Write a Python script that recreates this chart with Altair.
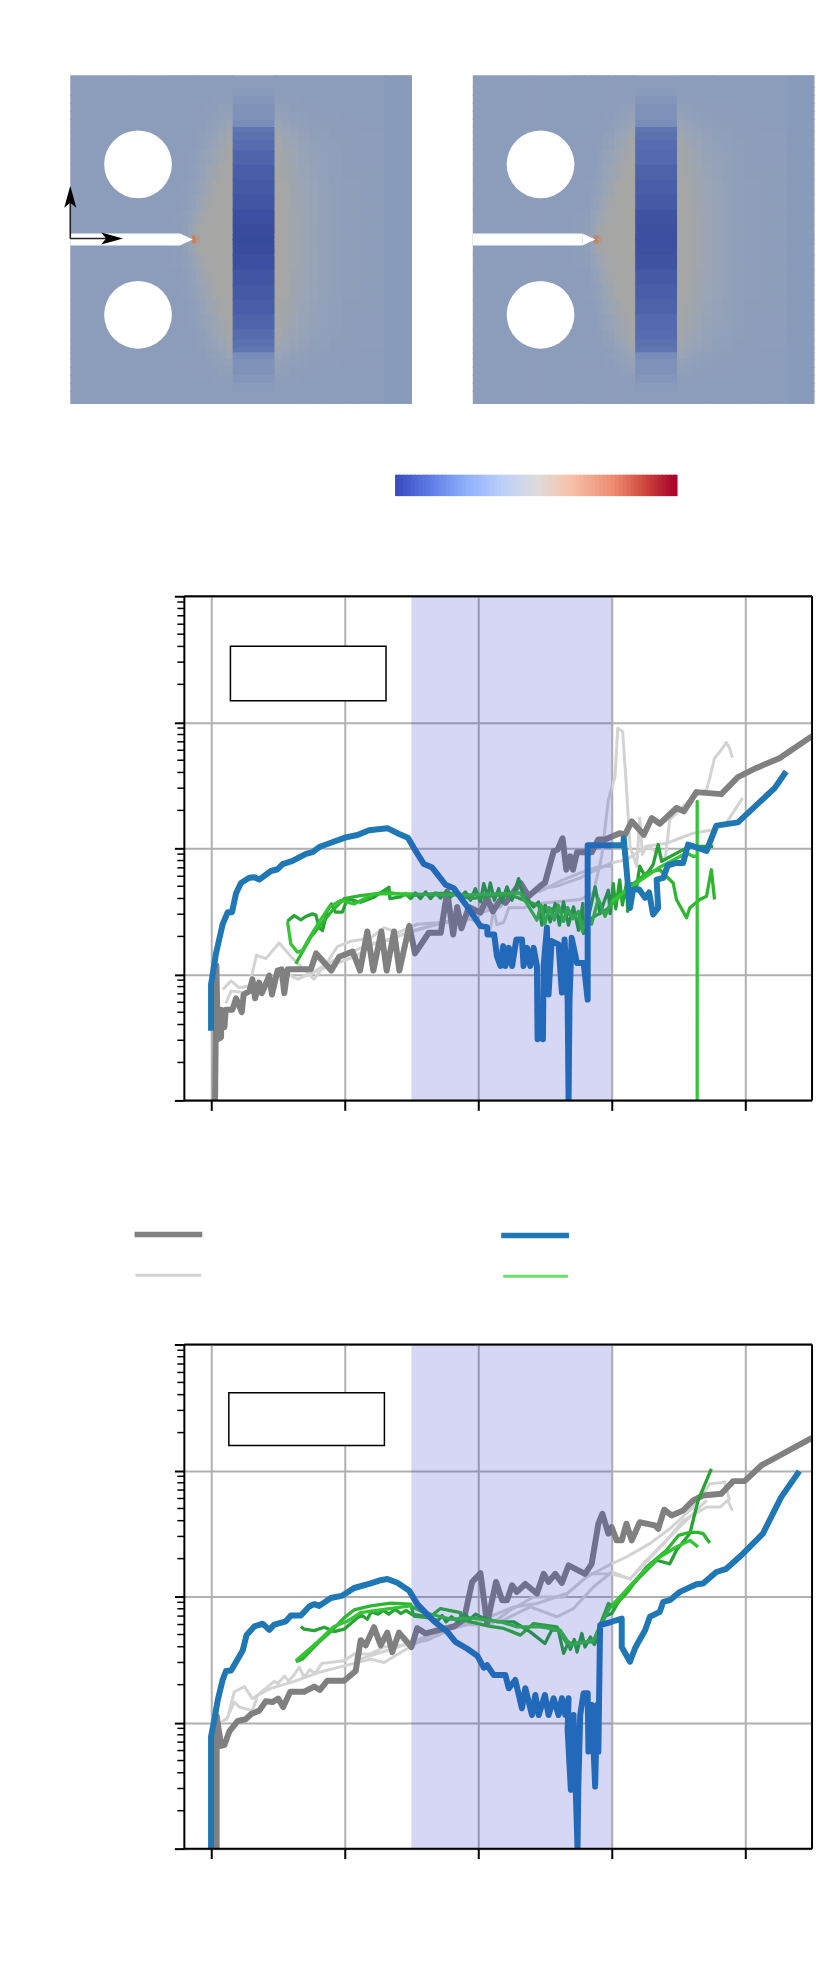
import altair as alt
import pandas as pd

# ---------- curves: (x, decades above 1e-9) ----------
p1_gray = [(0.03,0),(0.04,1.07),(0.05,.485),(0.075,.5),(0.075,.72),(.10,.58),(.11,.72),(.16,.72),(.187,.81),(.23,.70),(.244,.84),(.287,.867),(.31,.96),(.33,.81),(.36,.935),(.38,.85),(.436,.99),(.456,.84),(.498,1.03),(.528,1.04),(.548,.85),(.573,1.04),(.747,1.04),(.787,1.166),(.90,1.03),(.96,1.14),(1.06,1.18),(1.116,1.03),(1.17,1.34),(1.215,1.03),(1.275,1.34),(1.315,1.03),(1.37,1.34),(1.41,1.03),(1.484,1.384),(1.527,1.166),(1.63,1.33),(1.72,1.33),(1.768,1.657),(1.813,1.316),(1.843,1.534),(1.875,1.365),(1.93,1.534),(2.017,1.49),(2.067,1.607),(2.11,1.50),(2.167,1.594),(2.204,1.567),(2.316,1.726),(2.378,1.62),(2.478,1.712),(2.50,1.726),(2.565,1.976),(2.595,1.99),(2.632,2.08),(2.66,1.83),(2.69,1.937),(2.71,1.83),(2.74,1.968),(2.85,1.968),(2.90,2.07),(2.95,2.07),(3.06,2.12),(3.10,2.108),(3.15,2.214),(3.24,2.108),(3.30,2.24),(3.36,2.195),(3.485,2.32),(3.54,2.293),(3.634,2.446),(3.82,2.43),(3.945,2.565),(4.08,2.636),(4.256,2.715),(4.5,2.89)]
p1_blue = [(0,.553),(0,.92),(.037,1.166),(.087,1.398),(.125,1.493),(.157,1.493),(.187,1.643),(.224,1.725),(.286,1.766),(.324,1.77),(.361,1.752),(.448,1.82),(.498,1.834),(.536,1.875),(.61,1.90),(.71,1.956),(.76,1.97),(.81,2.01),(.897,2.044),(1.009,2.087),(1.096,2.106),(1.183,2.144),(1.32,2.16),(1.395,2.12),(1.474,2.084),(1.52,2.0),(1.594,1.875),(1.656,1.847),(1.756,1.711),(1.818,1.684),(1.93,1.52),(2.017,1.383),(2.067,1.375),(2.07,1.317),(2.12,1.317),(2.14,1.145),(2.167,1.066),(2.187,1.224),(2.204,1.066),(2.23,1.21),(2.254,1.066),(2.286,1.277),(2.328,1.277),(2.34,1.066),(2.366,1.21),(2.39,1.066),(2.415,1.21),(2.44,1.066),(2.445,.485),(2.465,.72),(2.485,.485),(2.49,1.066),(2.515,1.37),(2.527,.84),(2.55,1.264),(2.602,1.237),(2.627,.855),(2.647,1.277),(2.67,.80),(2.677,0),(2.684,.80),(2.70,1.29),(2.74,1.09),(2.79,1.09),(2.82,.80),(2.82,2.024),(3.087,2.024),(3.09,2.08),(3.137,1.527),(3.16,1.673),(3.206,1.673),(3.25,1.607),(3.28,1.65),(3.31,1.475),(3.348,1.527),(3.336,1.752),(3.386,1.765),(3.42,1.865),(3.485,1.884),(3.535,1.884),(3.572,2.03),(3.71,1.98),(3.784,2.18),(3.945,2.206),(4.22,2.478),(4.306,2.61)]
p1_light_a = [(.087,.88),(.15,.948),(.21,.894),(.287,.907),(.34,1.153),(.41,1.125),(.51,1.248),(.6,1.139),(.77,.962),(.87,1.098),(.946,1.22),(1.046,1.262),(1.196,1.289),(1.295,1.37),(1.395,1.33),(1.544,1.398),(1.694,1.41),(1.943,1.439),(2.09,1.357),(2.117,1.515),(2.14,1.396),(2.19,1.41),(2.23,1.528),(2.34,1.528),(2.49,1.567),(2.764,1.594),(2.863,1.646),(2.925,1.937),(2.975,2.385),(3.025,2.57),(3.045,2.953),(3.082,2.926),(3.11,2.49),(3.137,2.016),(3.187,1.857),(3.21,2.24),(3.23,1.95),(3.26,2.016),(3.31,1.99),(3.4,1.91),(3.435,2.227),(3.61,2.41),(3.71,2.465),(3.734,2.557),(3.77,2.715),(3.82,2.78),(3.858,2.84),(3.883,2.794),(3.903,2.72)]
p1_light_b = [(.11,.77),(.15,.867),(.274,.853),(.374,.907),(.448,.948),(.548,1.016),(.648,.962),(.797,1.03),(.897,1.07),(.996,1.11),(1.096,1.15),(1.22,1.248),(1.345,1.275),(1.494,1.343),(1.644,1.384),(1.818,1.425),(1.943,1.466),(2.167,1.534),(2.216,1.607),(2.34,1.62),(2.44,1.673),(2.59,1.70),(2.764,1.765),(2.888,1.83),(3,1.884),(3.11,1.91),(3.26,2.016),(3.41,2.04),(3.51,2.08),(3.61,2.12),(3.76,2.148),(3.858,2.2),(3.98,2.4)]
p1_light_c = [(.72,.99),(.9,1.1),(1.1,1.2),(1.3,1.27),(1.6,1.37),(1.9,1.46),(2.266,1.62),(2.465,1.66),(2.614,1.739),(2.764,1.805),(2.913,1.858),(3,1.858)]
p1_green_a = [(.572,1.422),(.622,1.467),(.672,1.432),(.709,1.459),(.759,1.48),(.785,1.47),(.809,1.374),(.834,1.348),(.871,1.506),(.901,1.559),(.933,1.493),(.983,1.493),(1.02,1.6),(1.12,1.572),(1.22,1.612),(1.332,1.691),(1.339,1.6),(1.419,1.614),(1.456,1.641),(1.494,1.601),(1.531,1.646),(1.568,1.601),(1.606,1.654),(1.643,1.601),(1.68,1.646),(1.718,1.606),(1.755,1.654),(1.793,1.614),(1.83,1.646),(1.867,1.614),(1.905,1.654),(1.942,1.588),(1.979,1.68),(2.017,1.575),(2.042,1.72),(2.071,1.614),(2.091,1.725),(2.121,1.588),(2.154,1.68),(2.178,1.575),(2.216,1.694),(2.253,1.588),(2.303,1.76),(2.34,1.614),(2.378,1.588),(2.415,1.535),(2.452,1.575),(2.477,1.39),(2.502,1.548),(2.54,1.416),(2.577,1.562),(2.609,1.39),(2.639,1.575),(2.676,1.39),(2.714,1.535),(2.751,1.35),(2.784,1.562),(2.789,1.324),(2.826,1.456),(2.876,1.694),(2.913,1.482),(2.938,1.562),(2.975,1.667),(2.988,1.482),(3.012,1.72),(3.03,1.52),(3.06,1.75),(3.08,1.55),(3.11,1.72),(3.12,1.5),(3.15,1.72),(3.187,1.70),(3.21,1.858),(3.25,1.778),(3.31,1.87),(3.348,2.03),(3.373,1.897),(3.535,1.99),(3.61,2.016),(3.76,2.016)]
p1_green_b = [(.634,1.084),(.746,1.295),(.908,1.506),(.996,1.6),(1.12,1.625),(1.32,1.65),(1.494,1.625),(1.694,1.643),(1.818,1.643),(1.943,1.6),(2.167,1.63),(2.266,1.62),(2.465,1.54),(2.664,1.488),(2.79,1.41),(2.963,1.515),(3.11,1.673),(3.26,1.805),(3.36,1.83),(3.46,1.725),(3.485,1.594),(3.56,1.449),(3.585,1.528),(3.66,1.594),(3.71,1.62),(3.746,1.83),(3.77,1.594)]
p1_green_c = [(.572,1.422),(.597,1.242),(.647,1.176),(.684,1.19),(.746,1.308),(.809,1.414),(.883,1.533),(.971,1.586),(1.07,1.559),(1.22,1.638),(1.494,1.638),(1.694,1.63),(1.943,1.63),(2.316,1.646),(2.44,1.43),(2.47,1.55),(2.5,1.4),(2.53,1.53),(2.57,1.43),(2.6,1.55),(2.64,1.42),(2.67,1.53),(2.71,1.44),(2.75,1.5),(2.78,1.34),(2.82,1.46),(2.85,1.4),(2.9,1.6),(2.95,1.46),(3.0,1.58),(3.187,1.725),(3.36,1.85),(3.56,1.963),(3.61,1.937),(3.64,1.937),(3.64,2.372),(3.64,0)]

p2_gray = [(.042,0),(.042,1.055),(.075,.815),(.1,.823),(.137,.93),(.2,1.014),(.26,1.027),(.3,1.068),(.361,1.095),(.41,1.169),(.46,1.163),(.503,1.19),(.54,1.123),(.593,1.245),(.697,1.245),(.772,1.286),(.815,1.259),(.87,1.332),(.996,1.332),(1.083,1.409),(1.12,1.654),(1.158,1.613),(1.22,1.757),(1.27,1.613),(1.32,1.714),(1.357,1.559),(1.407,1.714),(1.5,1.6),(1.544,1.749),(1.606,1.708),(1.818,1.763),(1.893,1.817),(1.955,2.117),(2.017,2.185),(2.067,1.786),(2.134,2.116),(2.18,1.97),(2.216,1.97),(2.254,2.09),(2.29,2.037),(2.353,2.10),(2.44,2.024),(2.49,2.18),(2.527,2.116),(2.577,2.18),(2.627,2.108),(2.677,2.248),(2.8,2.18),(2.85,2.26),(2.9,2.578),(2.93,2.657),(2.975,2.5),(3,2.55),(3.037,2.446),(3.075,2.446),(3.11,2.578),(3.15,2.446),(3.21,2.59),(3.323,2.565),(3.348,2.538),(3.393,2.689),(3.448,2.644),(3.535,2.683),(3.61,2.763),(3.684,2.802),(3.82,2.815),(3.91,2.916),(3.995,2.916),(4.12,3.04),(4.5,3.26)]
p2_blue = [(0,0),(0,.89),(.025,1.027),(.05,1.177),(.087,1.34),(.112,1.409),(.15,1.414),(.237,1.572),(.266,1.695),(.324,1.763),(.386,1.785),(.436,1.736),(.473,1.777),(.56,1.804),(.598,1.85),(.672,1.85),(.735,1.921),(.772,1.94),(.81,1.926),(.897,1.989),(.984,2.008),(1.071,2.068),(1.196,2.104),(1.27,2.13),(1.32,2.139),(1.395,2.109),(1.482,2.049),(1.544,1.94),(1.669,1.804),(1.768,1.722),(1.83,1.64),(1.918,1.586),(1.993,1.531),(2.042,1.436),(2.067,1.456),(2.117,1.377),(2.204,1.377),(2.229,1.272),(2.278,1.338),(2.328,1.113),(2.353,1.272),(2.403,1.06),(2.428,1.219),(2.453,1.06),(2.5,1.219),(2.527,1.06),(2.565,1.193),(2.602,1.06),(2.627,1.193),(2.652,1.06),(2.677,1.193),(2.67,.942),(2.694,.467),(2.714,1.06),(2.744,0),(2.75,.493),(2.764,1.06),(2.789,1.232),(2.82,1.232),(2.826,.77),(2.85,1.14),(2.876,.493),(2.89,1.14),(2.9,.77),(2.913,1.773),(3,1.8),(3.075,1.826),(3.075,1.6),(3.137,1.483),(3.174,1.588),(3.2,1.64),(3.25,1.733),(3.286,1.84),(3.36,1.879),(3.386,1.958),(3.435,1.971),(3.51,2.037),(3.634,2.098),(3.684,2.103),(3.784,2.195),(3.858,2.22),(3.983,2.34),(4.132,2.5),(4.269,2.789),(4.405,2.995)]
p2_light_a = [(.075,1.0),(.125,1.04),(.174,1.245),(.25,1.286),(.31,1.19),(.349,1.218),(.473,1.327),(.5,1.31),(.55,1.37),(.58,1.33),(.623,1.38),(.66,1.44),(.697,1.36),(.74,1.42),(.78,1.39),(.83,1.47),(.996,1.49),(1.071,1.545),(1.196,1.545),(1.295,1.6),(1.445,1.613),(1.62,1.654),(1.818,1.749),(1.993,1.804),(2.067,1.813),(2.19,1.813),(2.39,1.918),(2.59,1.84),(2.714,1.905),(2.863,2.076),(3,2.195),(3.137,2.14),(3.26,2.288),(3.41,2.446),(3.535,2.604),(3.71,2.71),(3.81,2.71),(3.87,2.763),(3.903,2.683)]
p2_light_b = [(.11,1.014),(.174,1.163),(.212,1.123),(.31,1.095),(.349,1.218),(.448,1.272),(.623,1.327),(.797,1.395),(.996,1.45),(1.196,1.504),(1.295,1.477),(1.445,1.572),(1.644,1.695),(1.893,1.777),(2.09,1.777),(2.24,1.892),(2.415,1.997),(2.64,1.997),(2.813,2.156),(3,2.26),(3.11,2.314),(3.286,2.42),(3.435,2.538),(3.61,2.71),(3.734,2.894),(3.846,2.908),(3.883,2.763)]
p2_light_c = [(1.1,1.5),(1.4,1.6),(1.7,1.72),(2.0,1.8),(2.266,1.918),(2.44,1.945),(2.664,2.024),(2.838,2.18),(3,2.18),(3.137,2.14),(3.3,2.32),(3.46,2.5),(3.61,2.657),(3.71,2.763)]
p2_green_a = [(.672,1.763),(.697,1.741),(.772,1.73),(.847,1.757),(.92,1.722),(.996,1.741),(1.096,1.831),(1.13,1.85),(1.17,1.82),(1.2,1.88),(1.25,1.86),(1.29,1.89),(1.33,1.86),(1.38,1.9),(1.42,1.865),(1.46,1.89),(1.5,1.86),(1.594,1.845),(1.7,1.81),(1.73,1.85),(1.76,1.8),(1.8,1.84),(1.85,1.8),(1.9,1.86),(1.94,1.82),(1.98,1.86),(2.017,1.84),(2.14,1.8),(2.266,1.8),(2.39,1.72),(2.5,1.628),(2.55,1.733),(2.6,1.733),(2.64,1.549),(2.677,1.64),(2.69,1.58),(2.72,1.66),(2.74,1.56),(2.776,1.707),(2.8,1.6),(2.84,1.68),(2.87,1.62),(2.888,1.654),(2.94,1.84),(3,1.865),(3.087,2.024),(3.187,2.13),(3.336,2.288),(3.435,2.26),(3.485,2.367),(3.585,2.5),(3.647,2.763),(3.746,3.013)]
p2_green_b = [(.635,1.482),(.685,1.504),(.797,1.627),(.897,1.722),(.996,1.831),(1.071,1.894),(1.196,1.926),(1.345,1.948),(1.494,1.94),(1.519,1.845),(1.631,1.831),(1.718,1.905),(1.868,1.872),(1.868,1.817),(2.09,1.763),(2.192,1.747),(2.316,1.694),(2.415,1.786),(2.59,1.76),(2.664,1.628),(2.863,1.641),(2.975,1.945),(3.012,1.918),(3.11,2.024),(3.26,2.235),(3.41,2.367),(3.5,2.485),(3.585,2.51),(3.647,2.51),(3.684,2.5),(3.734,2.425)]
p2_green_c = [(.635,1.49),(.797,1.64),(.92,1.763),(1.02,1.804),(1.12,1.872),(1.295,1.899),(1.494,1.926),(1.594,1.872),(1.8,1.82),(1.95,1.83),(2.167,1.8),(2.291,1.76),(2.465,1.76),(2.614,1.733),(2.69,1.615),(2.863,1.654),(2.988,1.918),(3.062,1.997),(3.21,2.169),(3.36,2.314),(3.485,2.393),(3.585,2.446),(3.647,2.393)]

# ---------- field picture (upper half; mirrored below the crack) ----------
field_cols = [0,60,100,112,118,122,126,130,136,142,148,156,163,205,212,220,230,240,250,260,272,290,315,343]
field_rows = [0,4,15,30,45,60,75,90,100,108,113,120,128,136,144,152,165]
field_vals = [
 [.5,.5,.52,.58,.68,.95,.88,.83,.83,.84,.84,.85,.01,.85,.82,.78,.72,.66,.61,.57,.54,.52,.48],
 [.5,.5,.52,.57,.65,.74,.8,.83,.83,.84,.84,.85,.02,.85,.82,.78,.72,.66,.61,.57,.54,.52,.48],
 [.5,.5,.51,.54,.6,.66,.73,.79,.82,.84,.84,.85,.04,.85,.82,.78,.72,.66,.61,.57,.54,.52,.48],
 [.5,.5,.5,.52,.56,.61,.67,.74,.8,.83,.84,.85,.08,.85,.82,.77,.71,.65,.61,.57,.54,.52,.48],
 [.5,.5,.5,.51,.54,.57,.62,.69,.76,.81,.84,.85,.11,.85,.81,.76,.7,.64,.6,.56,.54,.52,.48],
 [.5,.5,.5,.5,.52,.54,.58,.64,.71,.77,.82,.85,.14,.84,.8,.74,.68,.63,.59,.56,.53,.52,.48],
 [.5,.5,.5,.5,.51,.52,.55,.6,.66,.72,.78,.84,.18,.83,.78,.72,.66,.61,.58,.55,.53,.51,.48],
 [.5,.5,.5,.5,.5,.51,.53,.57,.62,.68,.74,.82,.22,.81,.75,.69,.63,.59,.56,.54,.52,.51,.48],
 [.5,.5,.5,.5,.5,.5,.52,.55,.59,.64,.7,.79,.24,.78,.72,.66,.61,.57,.55,.53,.52,.51,.48],
 [.5,.5,.5,.5,.5,.5,.51,.53,.57,.61,.66,.75,.26,.74,.68,.63,.58,.56,.54,.52,.51,.5,.48],
 [.5,.5,.5,.5,.5,.5,.5,.52,.55,.58,.62,.68,.36,.68,.63,.59,.56,.54,.53,.52,.51,.5,.48],
 [.5,.5,.5,.5,.5,.5,.5,.51,.53,.55,.59,.62,.39,.62,.59,.56,.54,.53,.52,.51,.5,.5,.48],
 [.5,.5,.5,.5,.5,.5,.5,.5,.51,.53,.55,.57,.40,.57,.55,.53,.52,.51,.5,.5,.5,.5,.48],
 [.5,.5,.5,.5,.5,.5,.5,.5,.5,.51,.52,.53,.44,.53,.52,.51,.5,.5,.5,.5,.5,.5,.48],
 [.5,.5,.5,.5,.5,.5,.5,.5,.5,.5,.5,.5,.48,.5,.5,.5,.5,.5,.5,.5,.5,.5,.48],
 [.5,.5,.5,.5,.5,.5,.5,.5,.5,.5,.5,.5,.5,.5,.5,.5,.5,.5,.5,.5,.5,.5,.48],
]
field_stops = [0, .2, .35, .5, .7, .85, 1]
field_colors = ["#37489b", "#5068ad", "#788cb9", "#8c9dbb", "#9aa5b6", "#a7a6a3", "#d7703f"]
BAND_COL = 12
cbar_stops = [0, .12, .25, .38, .5, .62, .78, .9, 1]
cbar_colors = ["#3b4cc0", "#5f7de6", "#8fb0fb", "#bdd0fa", "#dcdcdc", "#f6c3aa", "#ee8a6e", "#c9403a", "#a8002a"]

major_ticks = [1e-9, 1e-8, 1e-7, 1e-6, 1e-5]
minor_mult = [2, 3, 4, 5, 6, 7, 8, 9]
x_ticks = [0, 1, 2, 3, 4]
shade_band = (1.5, 3.0)

LIGHT, GRAY, BLUE = "#d3d3d3", "#808080", "#1f77b4"
GREENS = ["#27a336", "#2fb52f", "#35c435"]

PW, PH = 630, 506
X_SCALE = alt.Scale(domain=[-0.2, 4.5], nice=False, zero=False)
Y_SCALE = alt.Scale(type="log", domain=[1e-9, 1e-5], nice=False)


def line_df(points):
    return pd.DataFrame({"x": [p[0] for p in points],
                         "y": [10 ** (p[1] - 9) for p in points],
                         "i": range(len(points))})


def curve(points, color, width):
    return alt.Chart(line_df(points)).mark_line(
        color=color, strokeWidth=width, strokeJoin="round", strokeCap="butt", clip=True
    ).encode(
        x=alt.X("x:Q", scale=X_SCALE),
        y=alt.Y("y:Q", scale=Y_SCALE),
        order=alt.Order("i:Q"),
    )


def plot_panel(lights, greens, gray, blue, box):
    axis_x = alt.Axis(values=x_ticks, labels=False, title=None, tickSize=10, tickWidth=2,
                      tickColor="black", grid=True, gridColor="#b0b0b0", gridWidth=2, domain=False)
    axis_y = alt.Axis(values=major_ticks, labels=False, title=None, tickSize=10, tickWidth=2,
                      tickColor="black", grid=True, gridColor="#b0b0b0", gridWidth=2, domain=False)
    base = alt.Chart(pd.DataFrame({"x": [0.0], "y": [1e-7]})).mark_point(opacity=0).encode(
        x=alt.X("x:Q", scale=X_SCALE, axis=axis_x),
        y=alt.Y("y:Q", scale=Y_SCALE, axis=axis_y))
    minors = pd.DataFrame({"v": [m * t for t in major_ticks[:-1] for m in minor_mult]})
    minor_rules = alt.Chart(minors).mark_rule(color="black", strokeWidth=1.5).encode(
        y=alt.Y("v:Q", scale=Y_SCALE), x=alt.value(-7), x2=alt.value(0))
    box_rect = alt.Chart(pd.DataFrame({"x": [box[0]], "x2": [box[1]], "y": [10 ** (box[2] - 9)], "y2": [10 ** (box[3] - 9)]})).mark_rect(
        fill="white", stroke="black", strokeWidth=1.5).encode(
        x=alt.X("x:Q", scale=X_SCALE), x2="x2:Q", y=alt.Y("y:Q", scale=Y_SCALE), y2="y2:Q")
    shade = alt.Chart(pd.DataFrame({"x": [shade_band[0]], "x2": [shade_band[1]]})).mark_rect(
        color="#3333cc", opacity=0.2).encode(
        x=alt.X("x:Q", scale=X_SCALE), x2="x2:Q", y=alt.value(0), y2=alt.value(PH))
    frame = [
        alt.Chart(pd.DataFrame({"a": [0]})).mark_rule(color="black", strokeWidth=2).encode(
            x=alt.value(a), x2=alt.value(b), y=alt.value(c), y2=alt.value(d))
        for a, b, c, d in [(0, PW, 0, 0), (0, PW, PH, PH), (0, 0, 0, PH), (PW, PW, 0, PH)]
    ]
    layers = [base, minor_rules]
    layers += [curve(p, LIGHT, 3) for p in lights]
    layers += [curve(gray, GRAY, 6)]
    layers += [curve(p, c, 3.3) for p, c in zip(greens, GREENS)]
    layers += [curve(blue, BLUE, 6), box_rect, shade] + frame
    return alt.layer(*layers).properties(width=PW, height=PH)


# ---------- top row: two plates and colour bar ----------
TW, TH = 814, 583.5
PLATE_X = [59.5, 463.5]
MID_Y = 229
tx = alt.Scale(domain=[0, TW], nice=False, zero=False)
ty = alt.Scale(domain=[TH, 0], nice=False, zero=False)

cells = []
for plate, x0 in enumerate(PLATE_X):
    for r, row in enumerate(field_vals):
        for c, v in enumerate(row):
            if c == BAND_COL and plate == 1 and v < .2:
                v = v + 0.03
            for sign in (-1, 1):
                cells.append({"x": x0 + field_cols[c], "x2": x0 + field_cols[c + 1] + (1 if c < len(row) - 1 else 0),
                              "y": MID_Y + sign * field_rows[r] - sign * (1 if r == 0 else 0),
                              "y2": MID_Y + sign * (field_rows[r + 1] + (1 if r < len(field_vals) - 1 else 0)), "v": v})
field = alt.Chart(pd.DataFrame(cells)).mark_rect(strokeWidth=0).encode(
    x=alt.X("x:Q", scale=tx, axis=None), x2="x2:Q",
    y=alt.Y("y:Q", scale=ty, axis=None), y2="y2:Q",
    order=alt.Order("x:Q"),
    color=alt.Color("v:Q", legend=None, scale=alt.Scale(domain=field_stops, range=field_colors, interpolate="rgb")))

holes = pd.DataFrame([{"x": x0 + 68, "y": MID_Y + s * 75.5} for x0 in PLATE_X for s in (-1, 1)])
hole_marks = alt.Chart(holes).mark_point(filled=True, shape="circle", color="white", opacity=1, size=4624, strokeWidth=0).encode(
    x=alt.X("x:Q", scale=tx), y=alt.Y("y:Q", scale=ty))
slots = pd.DataFrame([{"x": x0, "x2": x0 + 110, "y": MID_Y - 6, "y2": MID_Y + 6} for x0 in PLATE_X])
slot_marks = alt.Chart(slots).mark_rect(color="white").encode(
    x=alt.X("x:Q", scale=tx), x2="x2:Q", y=alt.Y("y:Q", scale=ty), y2="y2:Q")
tips = pd.DataFrame([r for k, x0 in enumerate(PLATE_X) for r in (
    {"k": k, "x": x0 + 110, "y": MID_Y - 6, "y2": MID_Y + 6},
    {"k": k, "x": x0 + 123, "y": MID_Y, "y2": MID_Y})])
tip_marks = alt.Chart(tips).mark_area(color="white", opacity=1).encode(
    x=alt.X("x:Q", scale=tx), y=alt.Y("y:Q", scale=ty), y2="y2:Q", detail="k:N")
AX = PLATE_X[0]
arrow_x = alt.Chart(pd.DataFrame({"x": [AX], "x2": [AX + 46], "y": [MID_Y - 1]})).mark_rule(color="#222222", strokeWidth=1.6).encode(
    x=alt.X("x:Q", scale=tx), x2="x2:Q", y=alt.Y("y:Q", scale=ty))
arrow_y = alt.Chart(pd.DataFrame({"x": [AX], "y": [MID_Y - 1], "y2": [MID_Y - 42]})).mark_rule(color="#222222", strokeWidth=1.6).encode(
    x=alt.X("x:Q", scale=tx), y=alt.Y("y:Q", scale=ty), y2="y2:Q")
head_x = alt.Chart(pd.DataFrame({"x": [AX + 42], "y": [MID_Y - 1]})).mark_point(
    filled=True, color="black", opacity=1, size=484, strokeWidth=0, shape="M1,0L-1,.55L-.55,0L-1,-.55Z").encode(
    x=alt.X("x:Q", scale=tx), y=alt.Y("y:Q", scale=ty))
head_y = alt.Chart(pd.DataFrame({"x": [AX], "y": [MID_Y - 43]})).mark_point(
    filled=True, color="black", opacity=1, size=484, strokeWidth=0, shape="M0,-1L.55,1L0,.55L-.55,1Z").encode(
    x=alt.X("x:Q", scale=tx), y=alt.Y("y:Q", scale=ty))

cbar_n = 72
cbar = pd.DataFrame([{"x": 385.5 + 283.5 * k / cbar_n, "x2": 385.5 + 283.5 * (k + 1) / cbar_n + (1 if k < cbar_n - 1 else 0), "y": 465, "y2": 486.5, "w": k / (cbar_n - 1)} for k in range(cbar_n)])
cbar_marks = alt.Chart(cbar).mark_rect(strokeWidth=0).encode(
    x=alt.X("x:Q", scale=tx), x2="x2:Q", y=alt.Y("y:Q", scale=ty), y2="y2:Q",
    order=alt.Order("x:Q"),
    color=alt.Color("w:Q", legend=None, scale=alt.Scale(domain=cbar_stops, range=cbar_colors, interpolate="rgb")))

top = alt.layer(field, hole_marks, slot_marks, tip_marks, arrow_x, arrow_y, head_x, head_y, cbar_marks
                ).resolve_scale(color="independent").properties(width=TW, height=TH)

# ---------- legend row (keys only) ----------
LW, LH = 814, 231
lx = alt.Scale(domain=[0, LW], nice=False, zero=False)
ly = alt.Scale(domain=[LH, 0], nice=False, zero=False)
legend_keys = pd.DataFrame([
    {"x": 124, "x2": 192, "y": 123.5, "c": GRAY, "w": 5.5},
    {"x": 125, "x2": 191, "y": 164.5, "c": LIGHT, "w": 3},
    {"x": 492, "x2": 560, "y": 124.5, "c": BLUE, "w": 5.5},
    {"x": 494, "x2": 559, "y": 165.5, "c": "#6fdc6f", "w": 3},
])
legend_row = alt.Chart(legend_keys).mark_rule().encode(
    x=alt.X("x:Q", scale=lx, axis=None), x2="x2:Q", y=alt.Y("y:Q", scale=ly, axis=None),
    color=alt.Color("c:N", scale=None, legend=None),
    strokeWidth=alt.StrokeWidth("w:Q", scale=None, legend=None),
).properties(width=LW, height=LH)

# ---------- assemble ----------
SPACER = 163


def spacer():
    return alt.Chart(pd.DataFrame({"a": [0]})).mark_point(opacity=0).encode(
        x=alt.value(0), y=alt.value(0)).properties(width=SPACER, height=10)


panel1 = plot_panel([p1_light_a, p1_light_b, p1_light_c], [p1_green_a, p1_green_b, p1_green_c],
                    p1_gray, p1_blue, (0.145, 1.31, 3.604, 3.17))
panel2 = plot_panel([p2_light_a, p2_light_b, p2_light_c], [p2_green_a, p2_green_b, p2_green_c],
                    p2_gray, p2_blue, (0.133, 1.298, 3.617, 3.198))

chart = alt.vconcat(
    top,
    alt.hconcat(spacer(), panel1, spacing=0),
    legend_row,
    alt.hconcat(spacer(), panel2, spacing=0),
    spacing=0,
).properties(padding=0, background="white").configure_view(stroke=None)

chart.save("out.html", embed_options={"renderer": "svg", "actions": False})
